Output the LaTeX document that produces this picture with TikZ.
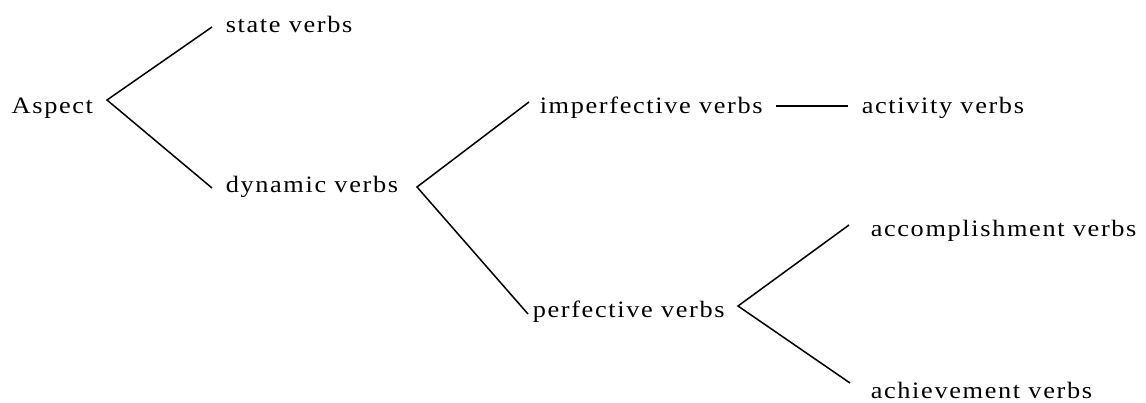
\documentclass[tikz,border=0pt]{standalone}
\usepackage{fontspec}
\setmainfont{Liberation Serif}[FakeStretch=1.12,LetterSpace=7]
\begin{document}
\begin{tikzpicture}[x=1pt,y=-1pt,line width=1.5pt,
  lbl/.style={anchor=base west,inner sep=0pt,font=\fontsize{23.5}{28}\selectfont},
  branch/.style={draw=black,line cap=butt}]
\useasboundingbox (0,0) rectangle (1146,402);

% labels
\node[lbl] (aspect)  at (11,113)  {Aspect};
\node[lbl] (state)   at (225,32)  {state verbs};
\node[lbl] (dynamic) at (225,192) {dynamic verbs};
\node[lbl] (imperf)  at (539,113) {imperfective verbs};
\node[lbl] (perf)    at (532,317) {perfective verbs};
\node[lbl] (activ)   at (861,113) {activity verbs};
\node[lbl] (accomp)  at (870,236) {accomplishment verbs};
\node[lbl] (achiev)  at (870,398) {achievement verbs};

% fork points and branch ends
\coordinate (f-aspect)  at (107,100);
\coordinate (f-dynamic) at (417,187);
\coordinate (f-perf)    at (738,306);
\coordinate (e-state)   at (212,27);
\coordinate (e-dynamic) at (212,188);
\coordinate (e-imperf)  at (529,102);
\coordinate (e-perf)    at (528,314);
\coordinate (e-accomp)  at (849,225);
\coordinate (e-achiev)  at (850,383);
\coordinate (h-start)   at (776,106);
\coordinate (h-end)     at (848,106);

% branches
\draw[branch] (e-state) -- (f-aspect) -- (e-dynamic);
\draw[branch] (e-imperf) -- (f-dynamic) -- (e-perf);
\draw[branch] (e-accomp) -- (f-perf) -- (e-achiev);
\draw[branch] (h-start) -- (h-end);
\end{tikzpicture}
\end{document}
